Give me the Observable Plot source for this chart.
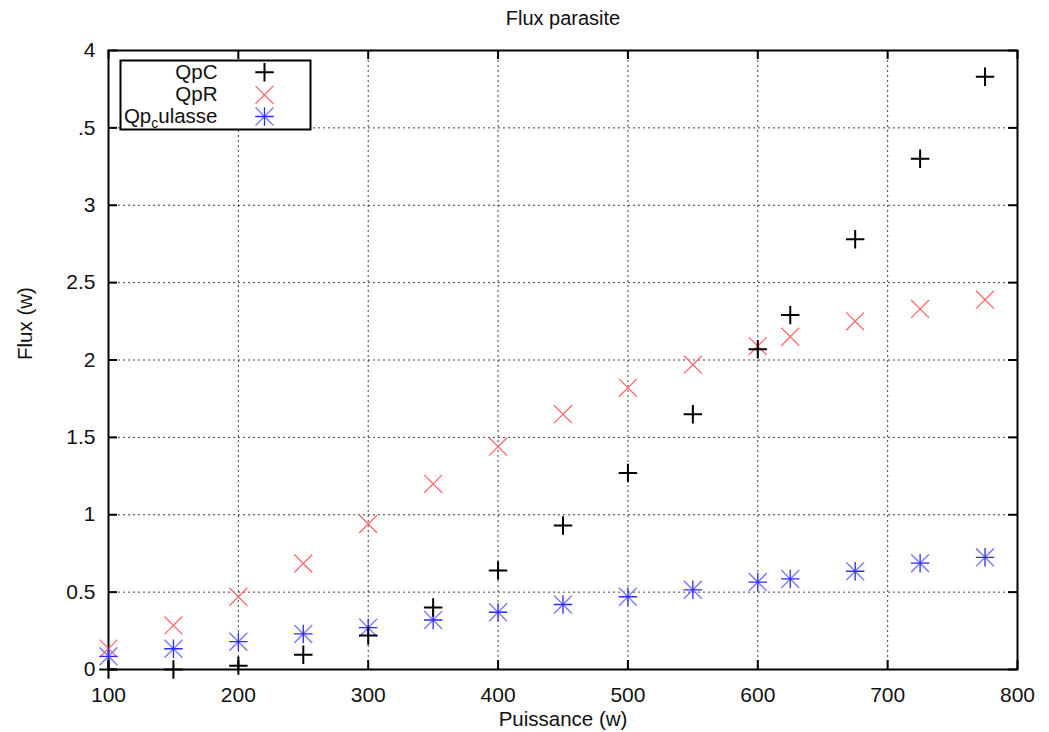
<!DOCTYPE html>
<html><head><meta charset="utf-8">
<script src="https://cdn.jsdelivr.net/npm/d3@7"></script>
<script src="https://cdn.jsdelivr.net/npm/@observablehq/plot@0.6"></script>
<style>
body{margin:0;background:#fff;}
#chart svg{font-family:"Liberation Sans",Arial,sans-serif;}
</style>
</head><body><div id="chart"></div>
<script>
const puissance = [100,150,200,250,300,350,400,450,500,550,600,625,675,725,775];
const qpC       = [0,0,0.025,0.095,0.22,0.40,0.64,0.93,1.27,1.65,2.07,2.29,2.78,3.30,3.83];
const qpR       = [0.135,0.285,0.47,0.685,0.94,1.20,1.44,1.65,1.82,1.97,2.09,2.15,2.25,2.33,2.39];
const qpCulasse = [0.085,0.134,0.18,0.23,0.27,0.32,0.37,0.42,0.47,0.515,0.565,0.585,0.635,0.687,0.725];
const xTicks = [100,200,300,400,500,600,700,800];
const yTicks = [0,0.5,1,1.5,2,2.5,3,3.5,4];
const yTickLabels = ["0","0.5","1","1.5","2","2.5","3",".5","4"];
const seriesNames = ["QpC","QpR","Qpculasse"];
const title = "Flux parasite";
const xLabel = "Puissance (w)";
const yLabel = "Flux (w)";

const W = 1049, H = 732;
const mL = 108, mR = 32, mT = 50, mB = 63;
const iW = W - mL - mR, iH = H - mT - mB;

const rowsC = puissance.map((x, i) => ({x, y: qpC[i]}));
const rowsR = puissance.map((x, i) => ({x, y: qpR[i]}));
const rowsK = puissance.map((x, i) => ({x, y: qpCulasse[i]}));

const grid = {stroke: "#000", strokeOpacity: 0.75, strokeWidth: 1, strokeDasharray: "2,3"};
const FS = 20.5, FT = 21;

const legendRows = [21.7, 44.3, 66];
const legendMarks = [];
legendMarks.push(Plot.frame({insetLeft: 12, insetTop: 10, insetRight: iW - 202, insetBottom: iH - 79, fill: "white", stroke: "black", strokeWidth: 2}));
seriesNames.forEach((name, i) => {
  legendMarks.push(Plot.text([name], {frameAnchor: "top-left", lineAnchor: "middle", dx: 109, dy: legendRows[i], textAnchor: "end", fontSize: FS, fill: "#111"}));
});
legendMarks.push(Plot.dot([0], {frameAnchor: "top-left", dx: 156, dy: legendRows[0], symbol: "plus", r: 6, stroke: "black", strokeWidth: 2}));
legendMarks.push(Plot.dot([0], {frameAnchor: "top-left", dx: 156, dy: legendRows[1], symbol: "times", r: 8.2, stroke: "#ff6a6a", strokeWidth: 1.3}));
legendMarks.push(Plot.dot([0], {frameAnchor: "top-left", dx: 156, dy: legendRows[2], symbol: "times", r: 8.2, stroke: "#8080ff", strokeWidth: 1.5}));
legendMarks.push(Plot.dot([0], {frameAnchor: "top-left", dx: 156, dy: legendRows[2], symbol: "plus", r: 6, stroke: "#2a2aff", strokeWidth: 1.3}));

const chart = Plot.plot({
  width: W, height: H,
  marginLeft: mL, marginRight: mR, marginTop: mT, marginBottom: mB,
  x: {domain: [100, 800], ticks: xTicks},
  y: {domain: [0, 4], ticks: yTicks},
  style: {fontFamily: '"Liberation Sans", Arial, sans-serif', background: "white"},
  marks: [
    Plot.ruleX(xTicks, {x: d => d, ...grid}),
    Plot.ruleY(yTicks, {y: d => d, ...grid}),
    Plot.ruleX(xTicks, {x: d => d, insetTop: iH - 9, stroke: "black", strokeWidth: 2}),
    Plot.ruleX(xTicks, {x: d => d, insetBottom: iH - 9, stroke: "black", strokeWidth: 2}),
    Plot.ruleY(yTicks, {y: d => d, insetRight: iW - 9, stroke: "black", strokeWidth: 2}),
    Plot.ruleY(yTicks, {y: d => d, insetLeft: iW - 9, stroke: "black", strokeWidth: 2}),
    Plot.axisX(xTicks, {anchor: "bottom", tickSize: 0, tickPadding: 18, fontSize: FT, label: null, fill: "#111"}),
    Plot.axisY(yTicks, {anchor: "left", tickSize: 0, tickPadding: 13, fontSize: FT, label: null, fill: "#111",
      tickFormat: d => yTickLabels[yTicks.indexOf(d)]}),
    Plot.frame({stroke: "black", strokeWidth: 2}),
    Plot.dot(rowsR, {x: "x", y: "y", symbol: "times", r: 8.2, stroke: "#ff6a6a", strokeWidth: 1.3}),
    Plot.dot(rowsK, {x: "x", y: "y", symbol: "times", r: 8.2, stroke: "#8080ff", strokeWidth: 1.5}),
    Plot.dot(rowsK, {x: "x", y: "y", symbol: "plus", r: 6, stroke: "#2a2aff", strokeWidth: 1.3}),
    Plot.dot(rowsC, {x: "x", y: "y", symbol: "plus", r: 6, stroke: "black", strokeWidth: 2}),
    ...legendMarks,
    Plot.text([title], {frameAnchor: "top", lineAnchor: "middle", dy: -32, fontSize: 20, fill: "#111"}),
    Plot.text([xLabel], {frameAnchor: "bottom", lineAnchor: "middle", dy: 50, fontSize: FS, fill: "#111"}),
    Plot.text([yLabel], {frameAnchor: "left", lineAnchor: "middle", dx: -83, rotate: -90, fontSize: FS, fill: "#111"})
  ]
});
document.getElementById("chart").appendChild(chart);

// subscript "c" in the third legend entry
d3.select(chart).selectAll("text").each(function() {
  if (this.textContent === "Qpculasse") {
    const t = d3.select(this);
    t.text(null);
    t.append("tspan").text("Qp");
    t.append("tspan").attr("dy", 5).attr("font-size", 14).text("c");
    t.append("tspan").attr("dy", -5).text("ulasse");
  }
});
</script>
</body></html>
